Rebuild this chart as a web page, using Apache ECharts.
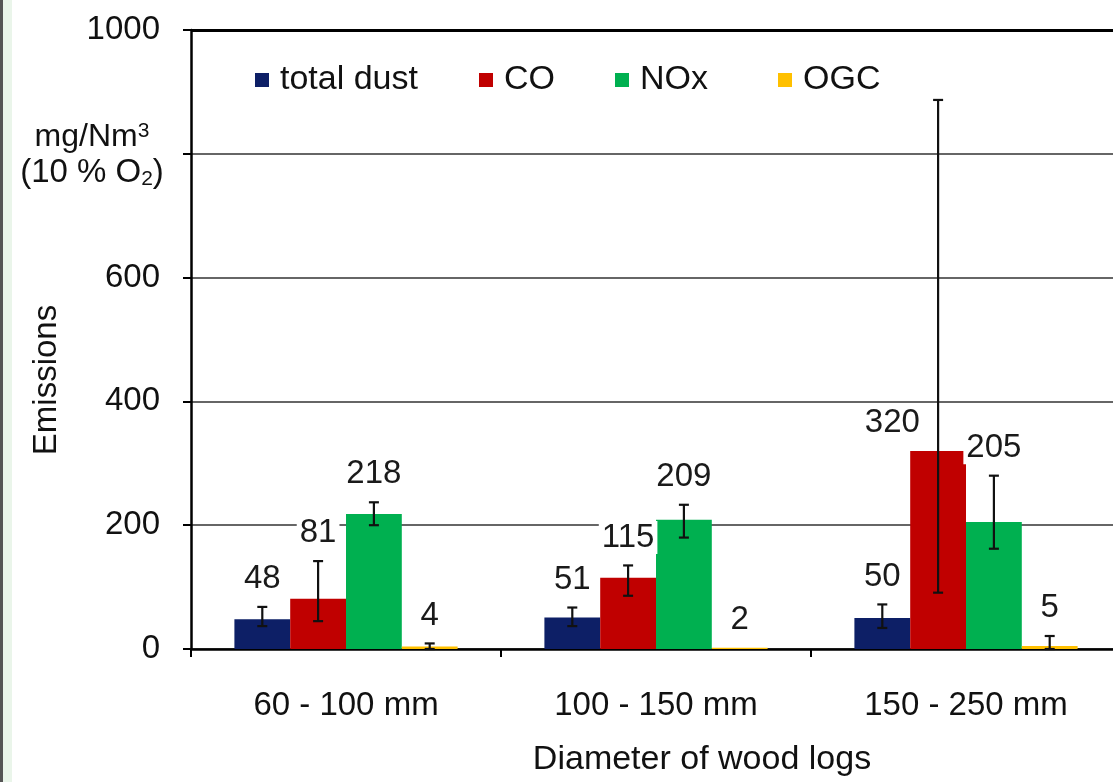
<!DOCTYPE html>
<html>
<head>
<meta charset="utf-8">
<script src="https://cdn.jsdelivr.net/npm/echarts@6/dist/echarts.min.js"></script>
<style>html,body{margin:0;padding:0;background:#fff;overflow:hidden;width:1113px;height:782px;}#c{width:1121px;height:782px;}</style>
</head>
<body>
<div id="c"></div>
<script>
const categories = ['60 - 100 mm', '100 - 150 mm', '150 - 250 mm'];
const seriesNames = ['total dust', 'CO', 'NOx', 'OGC'];
const dustValues = [48, 51, 50];
const coValues = [81, 115, 320];
const noxValues = [218, 209, 205];
const ogcValues = [4, 2, 5];
const dustErrLow = [37, 37, 34];
const dustErrHigh = [68, 67, 72];
const coErrLow = [45, 86, 91];
const coErrHigh = [142, 135, 887];
const noxErrLow = [200, 180, 162];
const noxErrHigh = [237, 233, 280];
const ogcErrLow = [0, null, 0];
const ogcErrHigh = [9, null, 21];
const yTicks = [0, 200, 400, 600, 800, 1000];

const colors = ['#0D1F66', '#C00000', '#00B050', '#FFC000'];
const FONT = "'Liberation Sans', Arial, sans-serif";
const values = [dustValues, coValues, noxValues, ogcValues];
const lows = [dustErrLow, coErrLow, noxErrLow, ogcErrLow];
const highs = [dustErrHigh, coErrHigh, noxErrHigh, ogcErrHigh];
const GAP = 0.28;

function makeRender(si) {
  return function (params, api) {
    const ci = api.value(0);
    const low = api.value(1), high = api.value(2), val = api.value(3);
    const catW = api.size([1, 0])[0];
    const bw = catW * (1 - GAP) / 4;
    const cx = api.coord([ci, 0])[0] + (si - 1.5) * bw;
    const children = [];
    const hasErr = !(isNaN(low) || isNaN(high) || low === null || high === null);
    if (hasErr) {
      const yl = api.coord([ci, low])[1];
      const yh = api.coord([ci, high])[1];
      const st = { stroke: '#111', lineWidth: 2.2 };
      children.push({ type: 'line', shape: { x1: cx, y1: yl, x2: cx, y2: yh }, style: st });
      children.push({ type: 'line', shape: { x1: cx - 5, y1: yh, x2: cx + 5, y2: yh }, style: st });
      children.push({ type: 'line', shape: { x1: cx - 5, y1: yl, x2: cx + 5, y2: yl }, style: st });
    }
    const tall = hasErr && high > 500;
    const anchor = (!hasErr || tall) ? val : high;
    const dx = tall ? -0.82 * bw : 0;
    const ty = api.coord([ci, anchor])[1] - 28;
    children.push({
      type: 'text', x: cx + dx, y: ty, z2: 10,
      style: { text: String(val), fontSize: 33, fontFamily: FONT, fill: '#1a1a1a',
        align: 'center', verticalAlign: 'middle', backgroundColor: '#fff', padding: [0, 3] }
    });
    return { type: 'group', children };
  };
}

const series = [];
seriesNames.forEach((name, si) => {
  const s = {
    name, type: 'bar', data: values[si], barGap: '0%', barCategoryGap: (GAP * 100) + '%',
    itemStyle: { color: colors[si] }, z: 2
  };
  if (si === 0) {
    s.markLine = { silent: true, symbol: 'none', label: { show: false },
      lineStyle: { color: '#000', width: 3, type: 'solid' }, data: [{ yAxis: yTicks[yTicks.length - 1] }] };
  }
  series.push(s);
});
seriesNames.forEach((name, si) => {
  series.push({
    type: 'custom', renderItem: makeRender(si), z: 5, silent: true,
    data: categories.map((c, ci) => [ci, lows[si][ci], highs[si][ci], values[si][ci]])
  });
});

const legendLefts = [255, 479, 615, 778];
const legends = seriesNames.map((n, i) => ({
  data: [n], left: legendLefts[i], top: 63, padding: 0, itemWidth: 14, itemHeight: 14, icon: 'rect',
  selectedMode: false,
  textStyle: { fontSize: 34, fontFamily: FONT, color: '#111', padding: [0, 0, 0, 6] }
}));

const chart = echarts.init(document.getElementById('c'), null, { renderer: 'canvas' });
chart.setOption({
  backgroundColor: '#fff',
  animation: false,
  color: colors,
  textStyle: { fontFamily: FONT },
  grid: { left: 191, right: 0, top: 30, bottom: 133, containLabel: false },
  legend: legends,
  xAxis: {
    type: 'category', data: categories,
    axisLine: { lineStyle: { color: '#000', width: 2.5 } },
    axisTick: { show: true, length: 8, alignWithLabel: false, interval: 0, lineStyle: { color: '#000', width: 2 } },
    axisLabel: { fontSize: 33, fontFamily: FONT, color: '#111', margin: 40, interval: 0 }
  },
  yAxis: {
    type: 'value', min: 0, max: 1000, interval: 200,
    axisLine: { show: true, lineStyle: { color: '#000', width: 2.5 } },
    axisTick: { show: true, inside: false, length: 8, lineStyle: { color: '#000', width: 2 } },
    axisLabel: { fontSize: 33, fontFamily: FONT, color: '#111', margin: 31,
      formatter: v => (v === 800 ? '' : String(v)) },
    splitLine: { show: true, lineStyle: { color: '#333', width: 1.5 } }
  },
  graphic: [
    { type: 'rect', left: 0, top: 0, shape: { width: 3, height: 782 }, style: { fill: '#555' }, z: 100 },
    { type: 'rect', left: 3, top: 0, shape: { width: 9, height: 782 }, style: { fill: '#EAF5EA' }, z: 100 },
    { type: 'text', x: 47, y: 380, rotation: Math.PI / 2, z: 100,
      style: { text: 'Emissions', fontSize: 33, fontFamily: FONT, fill: '#111', align: 'center', verticalAlign: 'middle' } },
    { type: 'text', x: 702, y: 760, z: 100,
      style: { text: 'Diameter of wood logs', fontSize: 34, fontFamily: FONT, fill: '#111', align: 'center', verticalAlign: 'middle' } },
    { type: 'text', x: 92, y: 137, z: 100,
      style: { text: 'mg/Nm{sup|3}', fontSize: 32, fontFamily: FONT, fill: '#111', align: 'center', verticalAlign: 'middle',
        rich: { sup: { fontSize: 21, fontFamily: FONT, fill: '#111', verticalAlign: 'top', lineHeight: 21 } } } },
    { type: 'text', x: 92, y: 173, z: 100,
      style: { text: '(10 % O{sub|2})', fontSize: 33, fontFamily: FONT, fill: '#111', align: 'center', verticalAlign: 'middle',
        rich: { sub: { fontSize: 21, fontFamily: FONT, fill: '#111', verticalAlign: 'bottom', lineHeight: 21 } } } }
  ],
  series
});
</script>
</body>
</html>
